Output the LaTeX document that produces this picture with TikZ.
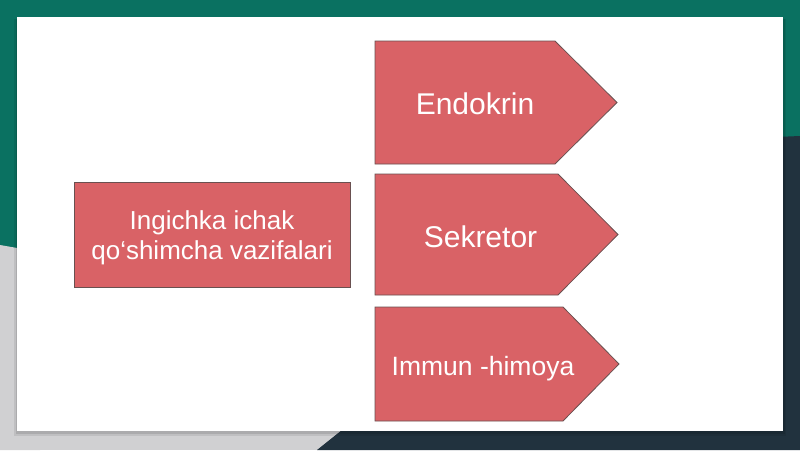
\documentclass[tikz,border=0pt]{standalone}
\usepackage{fontspec}
\setmainfont{Liberation Sans}
\definecolor{slideteal}{RGB}{10,113,97}
\definecolor{slidenavy}{RGB}{33,50,62}
\definecolor{slidegray}{RGB}{208,208,210}
\definecolor{boxred}{RGB}{217,98,102}
\definecolor{boxline}{RGB}{105,80,80}
\begin{document}
\begin{tikzpicture}[
		x=1pt,y=-1pt,
		box/.style={draw=boxline,fill=boxred,line width=0.8pt},
		lbl/.style={text=white,inner sep=0pt}
	]
	\useasboundingbox (0,0) rectangle (800,450);
	% background
	\fill[slideteal] (0,0) rectangle (800,450);
	\fill[slidegray] (0,245) -- (40,252) -- (40,450) -- (0,450) -- cycle;
	\fill[slidegray] (0,425) rectangle (800,450);
	\fill[slidenavy] (705,140) -- (800,136) -- (800,450) -- (317,450) -- cycle;
	% card
	\fill[black,opacity=0.08] (14,19) rectangle (786,436);
	\fill[black,opacity=0.10] (16,19) rectangle (785,434);
	\fill[white] (17,17) rectangle (783,431);
	% left box
	\node[box,minimum width=276pt,minimum height=105pt] (main) at (212,234.5) {};
	\node[lbl,align=center,font=\fontsize{26}{30}\selectfont] (maintxt) at (212,238)
		{Ingichka ichak\\qo‘shimcha vazifalari};
	% arrows
	\filldraw[box] (375,41) -- (555,41) -- (617,102.5) -- (555,164) -- (375,164) -- cycle;
	\filldraw[box] (375,174) -- (558,174) -- (618,234.5) -- (558,295) -- (375,295) -- cycle;
	\filldraw[box] (375,307) -- (563,307) -- (619,364) -- (563,421) -- (375,421) -- cycle;
	\node[lbl,anchor=base,font=\fontsize{30}{36}\selectfont] (endo) at (475,114) {Endokrin};
	\node[lbl,anchor=base,font=\fontsize{30}{36}\selectfont] (sekr) at (480.5,247) {Sekretor};
	\node[lbl,anchor=base,font=\fontsize{26.5}{32}\selectfont] (immun) at (483,375) {Immun -himoya};
\end{tikzpicture}
\end{document}
